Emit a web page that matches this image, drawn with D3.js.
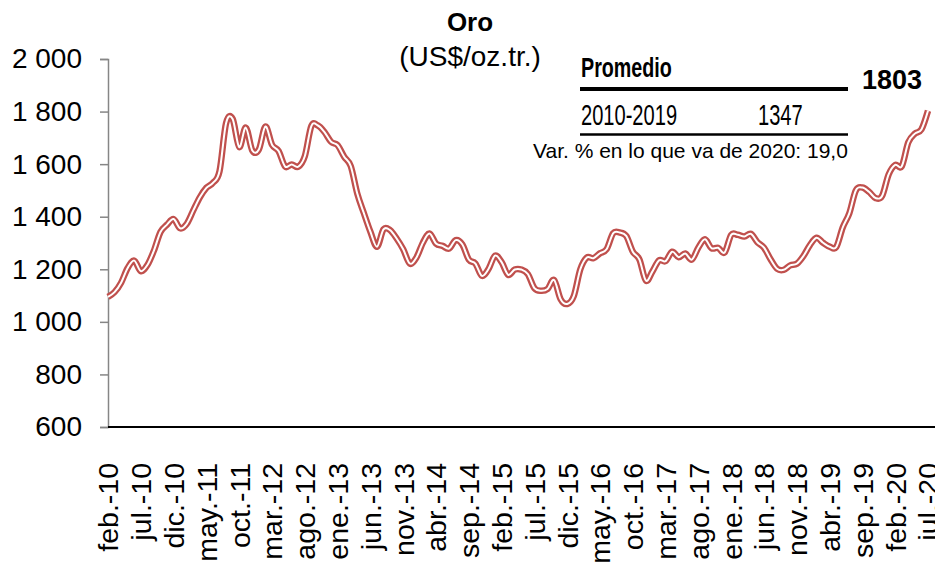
<!DOCTYPE html>
<html>
<head>
<meta charset="utf-8">
<script src="https://cdn.jsdelivr.net/npm/d3@7"></script>
<style>
  body { margin: 0; background: #fff; }
  svg { display: block; font-family: "Liberation Sans", Arial, sans-serif; }
</style>
</head>
<body>
<div id="chart"></div>
<script>
// month names used for the category labels
var mesNames = ["ene.", "feb.", "mar.", "abr.", "may.", "jun.", "jul.", "ago.", "sep.", "oct.", "nov.", "dic."];

// gold price, US$/oz.tr., monthly from feb.-10 to jul.-20
var oro = [
  1095, 1113, 1149, 1205, 1233, 1193, 1216, 1271, 1342, 1370, 1391,
  1356, 1373, 1424, 1474, 1510, 1529, 1573, 1756, 1772, 1665, 1739, 1652,
  1656, 1743, 1674, 1650, 1591, 1599, 1590, 1630, 1745, 1747, 1722, 1685,
  1672, 1628, 1593, 1488, 1414, 1343, 1286, 1352, 1349, 1317, 1276, 1222,
  1244, 1301, 1336, 1298, 1289, 1279, 1311, 1295, 1237, 1222, 1175, 1201,
  1252, 1227, 1179, 1199, 1199, 1182, 1128, 1118, 1125, 1159, 1086, 1068,
  1098, 1200, 1245, 1242, 1261, 1276, 1337, 1340, 1327, 1267, 1238, 1157,
  1192, 1234, 1231, 1267, 1246, 1260, 1237, 1283, 1314, 1280, 1282, 1264,
  1331, 1331, 1325, 1335, 1303, 1282, 1238, 1202, 1198, 1215, 1221, 1250,
  1292, 1320, 1301, 1286, 1284, 1359, 1413, 1500, 1511, 1495, 1471, 1479,
  1561, 1597, 1592, 1683, 1716, 1732, 1803
];

var yTicks = [600, 800, 1000, 1200, 1400, 1600, 1800, 2000];

// build "feb.-10" style labels starting at feb 2010
var meses = oro.map(function(d, i) {
  var m = (1 + i) % 12;
  var y = 10 + Math.floor((1 + i) / 12);
  return mesNames[m] + "-" + y;
});

var promedioPeriodo = "2010-2019";
var promedioValor = 1347;
var ultimoValor = 1803;
var variacion = "19,0";

var width = 935, height = 567;

var svg = d3.select("#chart").append("svg")
    .attr("width", width)
    .attr("height", height);

var x = d3.scalePoint()
    .domain(meses)
    .range([108, 928]);

var y = d3.scaleLinear()
    .domain([600, 2000])
    .range([427, 59]);

// Y axis (grey line with outside ticks)
var yAxis = svg.append("g")
    .attr("transform", "translate(108,0)")
    .call(d3.axisLeft(y).tickValues(yTicks).tickSize(8).tickPadding(18)
        .tickFormat(function(d) { return d3.format(",")(d).replace(",", " "); }));
yAxis.select(".domain").attr("stroke", "#868686").attr("stroke-width", 1.5);
yAxis.selectAll(".tick line").attr("stroke", "#868686").attr("stroke-width", 1.5);
yAxis.selectAll("text")
    .attr("font-size", "28px")
    .attr("font-family", "Liberation Sans, Arial, sans-serif")
    .attr("fill", "#000");

// X axis, labels every 5 months, rotated
var xAxis = svg.append("g")
    .attr("transform", "translate(0,427)")
    .call(d3.axisBottom(x).tickValues(meses.filter(function(d, i) { return i % 5 == 0; })).tickSize(0).tickSizeOuter(0));
xAxis.select(".domain").remove();
xAxis.selectAll("text")
    .attr("font-size", "28.5px")
    .attr("font-family", "Liberation Sans, Arial, sans-serif")
    .attr("fill", "#000")
    .attr("text-anchor", "end")
    .attr("dy", "0.35em")
    .attr("y", 0)
    .attr("transform", "translate(0,36) rotate(-90)");

svg.append("line")
    .attr("x1", 108).attr("x2", 935)
    .attr("y1", 427).attr("y2", 427)
    .attr("stroke", "#000")
    .attr("stroke-width", 2);

// the double (outlined) line
var line = d3.line()
    .x(function(d, i) { return x(meses[i]); })
    .y(function(d) { return y(d); })
    .curve(d3.curveCatmullRom.alpha(0));

svg.append("path")
    .datum(oro)
    .attr("d", line)
    .attr("fill", "none")
    .attr("stroke", "#C0504D")
    .attr("stroke-width", 6.5)
    .attr("stroke-linejoin", "round");
svg.append("path")
    .datum(oro)
    .attr("d", line)
    .attr("fill", "none")
    .attr("stroke", "#fff")
    .attr("stroke-width", 2)
    .attr("stroke-linejoin", "round");

// titles
svg.append("text")
    .attr("x", 470).attr("y", 31)
    .attr("text-anchor", "middle")
    .attr("font-weight", "bold")
    .attr("font-size", "26px")
    .text("Oro");
svg.append("text")
    .attr("x", 470).attr("y", 66)
    .attr("text-anchor", "middle")
    .attr("font-size", "28px")
    .text("(US$/oz.tr.)");

// promedio box
svg.append("text")
    .attr("transform", "translate(581,77) scale(0.73,1)")
    .attr("font-weight", "bold")
    .attr("font-size", "27px")
    .text("Promedio");
svg.append("line")
    .attr("x1", 580).attr("x2", 848)
    .attr("y1", 89).attr("y2", 89)
    .attr("stroke", "#000").attr("stroke-width", 4);
svg.append("text")
    .attr("transform", "translate(581,125) scale(0.67,1)")
    .attr("font-size", "30px")
    .text(promedioPeriodo);
svg.append("text")
    .attr("transform", "translate(758,125) scale(0.67,1)")
    .attr("font-size", "30px")
    .text(promedioValor);
svg.append("line")
    .attr("x1", 580).attr("x2", 848)
    .attr("y1", 134.5).attr("y2", 134.5)
    .attr("stroke", "#000").attr("stroke-width", 2.5);
svg.append("text")
    .attr("x", 533).attr("y", 158)
    .attr("font-size", "21px")
    .text("Var. % en lo que va de 2020: " + variacion);

// last value label
svg.append("text")
    .attr("x", 862).attr("y", 89)
    .attr("font-weight", "bold")
    .attr("font-size", "27px")
    .text(ultimoValor);
</script>
</body>
</html>
